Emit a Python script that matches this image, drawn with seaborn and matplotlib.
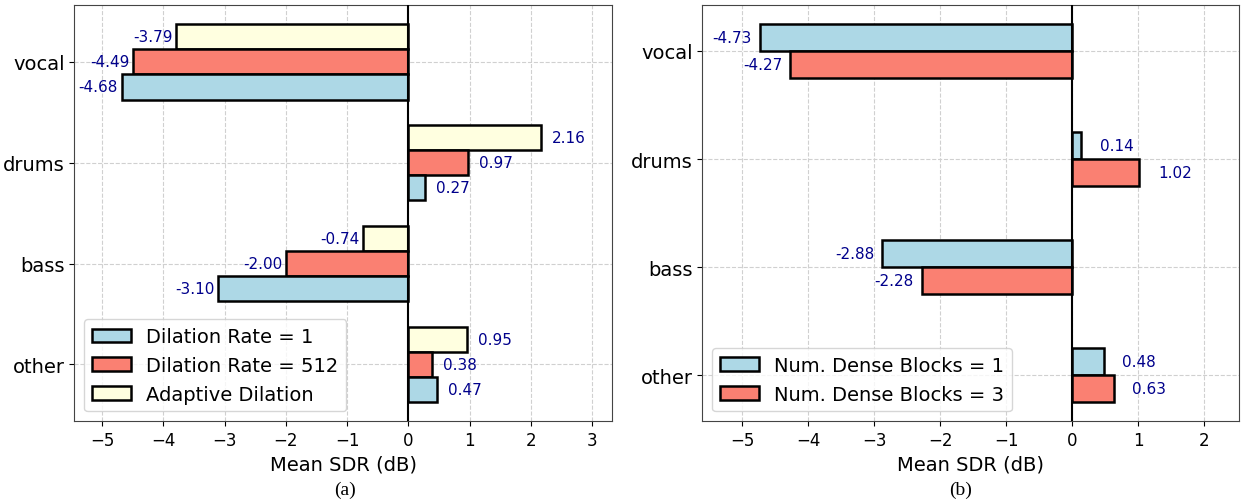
import numpy as np
import pandas as pd
import matplotlib
matplotlib.use("Agg")
import matplotlib.pyplot as plt
import seaborn as sns

# Source categories shared by both panels
sources = ["vocal", "drums", "bass", "other"]

# Panel (a): dilation-rate ablation
dil_labels = ["Dilation Rate = 1", "Dilation Rate = 512", "Adaptive Dilation"]
dil_rate_1 = [-4.68, 0.27, -3.10, 0.47]
dil_rate_512 = [-4.49, 0.97, -2.00, 0.38]
dil_adaptive = [-3.79, 2.16, -0.74, 0.95]

# Panel (b): number of dense blocks
blk_labels = ["Num. Dense Blocks = 1", "Num. Dense Blocks = 3"]
blocks_1 = [-4.73, 0.14, -2.88, 0.48]
blocks_3 = [-4.27, 1.02, -2.28, 0.63]

colors = {"blue": "#ADD8E6", "red": "#FA8072", "yellow": "#FFFFE0"}


def long_frame(labels, series):
    rows = []
    for lab, vals in zip(labels, series):
        for src, v in zip(sources, vals):
            rows.append({"source": src, "config": lab, "sdr": v})
    return pd.DataFrame(rows)


df_a = long_frame(dil_labels, [dil_rate_1, dil_rate_512, dil_adaptive])
df_b = long_frame(blk_labels, [blocks_1, blocks_3])

fig = plt.figure(figsize=(12.41, 5.02), dpi=100)
ax_a = fig.add_axes([0.060, 0.159, 0.433, 0.829])
ax_b = fig.add_axes([0.566, 0.159, 0.432, 0.829])


def draw_panel(ax, df, hue_order, palette, width, xlim, ylim, off_pos, off_neg, legend_order):
    sns.barplot(data=df, x="sdr", y="source", hue="config", order=sources,
                hue_order=hue_order, palette=palette, orient="h", width=width,
                saturation=1, edgecolor="black", linewidth=1.8, errorbar=None, ax=ax)
    # value labels next to each bar
    for container, lab in zip(ax.containers, hue_order):
        vals = df[df["config"] == lab].set_index("source").loc[sources, "sdr"].values
        for bar, v in zip(container, vals):
            yc = bar.get_y() + bar.get_height() / 2
            if v >= 0:
                ax.text(v + off_pos, yc, f"{v:.2f}", ha="left", va="center",
                        color="darkblue", fontsize=11)
            else:
                ax.text(v - off_neg, yc, f"{v:.2f}", ha="right", va="center",
                        color="darkblue", fontsize=11)
    ax.axvline(0, color="black", linewidth=1.5, zorder=3)
    ax.set_xlim(*xlim)
    ax.set_ylim(*ylim)
    ax.set_xticks(np.arange(int(np.ceil(xlim[0])), int(np.floor(xlim[1])) + 1))
    ax.grid(True, linestyle="--", color="#d0d0d0", linewidth=0.8)
    ax.set_axisbelow(True)
    ax.set_xlabel("Mean SDR (dB)", fontsize=14)
    ax.set_ylabel("")
    ax.tick_params(axis="y", labelsize=14)
    ax.tick_params(axis="x", labelsize=12)
    for sp in ax.spines.values():
        sp.set_color("#444444")
    handles, labels = ax.get_legend_handles_labels()
    lut = dict(zip(labels, handles))
    hs = [lut[l] for l in legend_order]
    for h in hs:
        h.set_edgecolor("black")
        h.set_linewidth(1.8)
    ax.legend(hs, legend_order, loc="lower left", fontsize=14, framealpha=0.8)


draw_panel(ax_a, df_a,
           hue_order=["Adaptive Dilation", "Dilation Rate = 512", "Dilation Rate = 1"],
           palette={"Dilation Rate = 1": colors["blue"],
                    "Dilation Rate = 512": colors["red"],
                    "Adaptive Dilation": colors["yellow"]},
           width=0.75, xlim=(-5.45, 3.32), ylim=(3.5625, -0.5625),
           off_pos=0.18, off_neg=0.06, legend_order=dil_labels)

draw_panel(ax_b, df_b,
           hue_order=blk_labels,
           palette={blk_labels[0]: colors["blue"], blk_labels[1]: colors["red"]},
           width=0.5, xlim=(-5.6, 2.52), ylim=(3.425, -0.425),
           off_pos=0.28, off_neg=0.12, legend_order=blk_labels)

fig.text(0.278, 0.024, "(a)", ha="center", va="center",
         family="Liberation Serif", fontsize=14)
fig.text(0.774, 0.024, "(b)", ha="center", va="center",
         family="Liberation Serif", fontsize=14)

fig.savefig("out.png", dpi=100)
